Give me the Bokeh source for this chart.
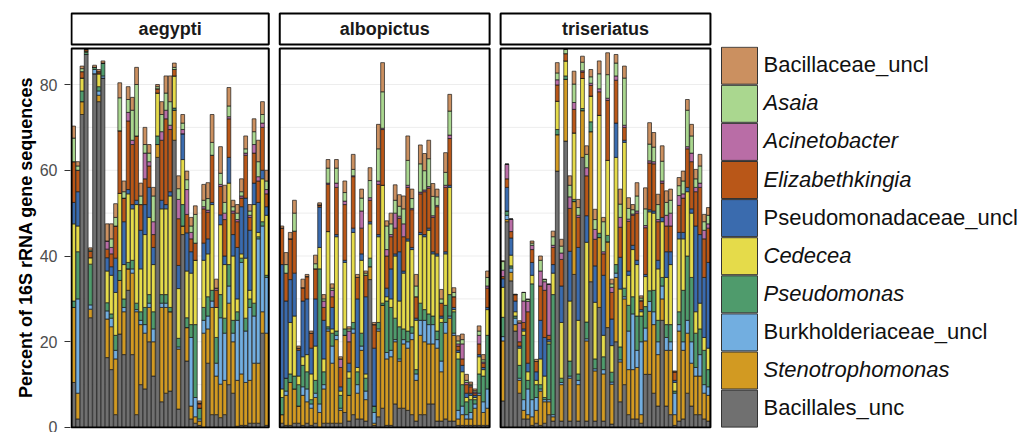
from bokeh.plotting import figure
from bokeh.layouts import column
from bokeh.models import ColumnDataSource, Range1d, FixedTicker
from bokeh.embed import file_html
from bokeh.resources import INLINE
from bokeh.core.properties import value

# ---------------- data ----------------
SPECIES = ["aegypti", "albopictus", "triseriatus"]
# stacking order: bottom -> top
TAXA = ["Bacillales_unc", "Stenotrophomonas", "Burkholderiaceae_uncl", "Pseudomonas",
        "Cedecea", "Pseudomonadaceae_uncl", "Elizabethkingia", "Acinetobacter",
        "Asaia", "Bacillaceae_uncl"]
ITALIC = [False, True, False, True, True, False, True, True, True, False]
COLORS = ["#707070", "#D29A22", "#72AEE0", "#4F9B6C", "#E5DB4A", "#3A6BAE",
          "#B95718", "#B96DA6", "#AAD78F", "#CB9060"]

# Aedes aegypti (47 samples)
AEG_BACILLALES_UNC = [10.5, 2, 73, 87, 25.6, 82.5, 76, 81.5, 16.3, 13.5, 3, 21.8, 17, 32, 17, 3, 10, 9, 20, 12, 63, 6, 8, 8.5, 67, 4.3, 45, 15.5, 2, 1, 0.5, 0, 15, 3, 3, 2.3, 3, 10, 8, 0.3, 0.5, 0.5, 1, 1, 1, 22, 0.5]
AEG_STENOTROPHOMONAS = [17.5, 6, 3, 0, 2, 0, 1.5, 0, 9, 10, 13, 12.5, 10, 5, 19, 24, 14, 13, 8, 8, 3, 22, 20, 18.5, 7, 14, 2, 7.8, 3, 1.5, 1, 22, 8, 25, 9, 7.8, 8, 19, 12, 10.7, 12, 10, 10, 14, 14, 5, 21.5]
AEG_BURKHOLDERIACEAE = [0, 22, 0, 0, 1, 1, 1, 0.5, 1.9, 2, 2, 0, 1, 0, 1, 0.5, 1, 2, 1, 3, 0, 1, 1, 0, 0, 0.5, 0, 0, 16, 4.5, 0.5, 3, 3, 1.5, 3, 15.5, 11, 4, 2, 14, 26, 12, 17, 11, 29, 20, 13]
AEG_PSEUDOMONAS = [1.5, 11, 2.5, 0.5, 9.5, 0.5, 1, 3, 1.9, 1, 3.5, 2.3, 2, 1.5, 2, 1.5, 2, 4, 2, 4, 2, 2, 2, 1, 0.5, 2, 5, 2.3, 3, 17, 2.5, 3, 4.5, 2.5, 6, 5.4, 3.5, 5, 3, 2, 1, 3, 2, 3, 0.5, 1, 0.5]
AEG_CEDECEA = [18, 6, 3, 0.3, 1.5, 0, 3, 0, 7.4, 9, 10, 18, 8, 16, 12, 23, 10, 17, 18, 11, 10, 20, 20, 26, 7.5, 11.6, 10.5, 10.9, 12, 15, 0, 11, 10, 20, 7, 16.3, 12.5, 19, 15, 3, 1, 14, 2, 23, 1, 10, 14]
AEG_PSEUDOMONADACEAE = [5, 8, 0, 0, 0, 0, 0, 0, 3.1, 2, 8, 0, 10, 1, 1, 1, 9, 7, 7, 4, 0, 2, 1, 1, 0, 5.4, 6, 8.9, 5, 0, 0, 4, 3.5, 0.5, 0, 2.3, 2, 6, 5, 12, 11, 14, 14, 5, 7, 2, 2]
AEG_ELIZABETHKINGIA = [9.5, 5, 1.5, 0.4, 1.5, 0, 0.5, 0, 2, 3, 7.5, 14.6, 5.5, 16, 14, 15, 6, 6, 5, 3, 1, 14, 20, 14.5, 1.5, 10.9, 0, 4.3, 3, 4, 1, 8, 6.2, 11, 4, 6.6, 8.5, 9, 5, 6, 2, 10, 3, 7, 5, 10, 3]
AEG_ACINETOBACTER = [0, 0, 0, 0, 0, 0, 0, 0, 1.9, 1.5, 0, 0, 0, 2, 1, 0, 0, 6, 1, 3, 0, 2, 2, 1, 0, 4.5, 1, 5.8, 1.5, 0, 0.2, 0.5, 0.5, 0, 0.5, 0.5, 1.5, 0.5, 0.5, 0.5, 0.5, 0.5, 0.5, 2, 1, 1, 1]
AEG_ASAIA = [5.5, 1, 0.7, 0, 0.3, 0, 0, 0, 0, 2, 2, 7.7, 1.5, 3, 7, 12, 2, 2, 2, 6, 0.5, 4, 4, 5.5, 0.5, 2.5, 1.5, 2.3, 1.5, 6.7, 0, 1.5, 2.7, 3, 0, 2.6, 2.5, 2.5, 1, 1.5, 1, 1, 1, 3, 3.5, 2, 2]
AEG_BACILLACEAE = [2.8, 1, 0.6, 0, 0.5, 0.5, 0.5, 0.5, 4, 3.5, 3.2, 3.5, 2.5, 3, 3, 4, 3, 4, 2, 2, 0.5, 3, 4, 6, 1, 3, 2, 2, 2, 2, 0.5, 3.7, 3.7, 6.5, 2.1, 6.2, 4, 4.3, 1.5, 2, 3, 3, 1.5, 3, 5, 3, 2.5]

# Aedes albopictus (50 samples)
ALB_BACILLALES_UNC = [1, 0.5, 0.5, 1, 1, 0.5, 1, 0.5, 1, 0, 1, 1, 1, 1, 1, 3.5, 1.5, 3, 2, 2, 1.5, 34.5, 0.5, 2.5, 4.5, 0.5, 0.5, 5.5, 4.5, 4.5, 4, 3, 1.5, 3, 3, 5.5, 5.5, 1.5, 1.5, 2, 1.5, 1.5, 0.5, 0.5, 0.5, 0.5, 0.5, 0.5, 0.5, 0.5]
ALB_STENOTROPHOMONAS = [2, 7, 10, 8, 4, 7, 5, 4, 6, 3.5, 8, 21.5, 14, 19.5, 3, 18, 6, 19, 6, 16, 5, 3, 0.5, 20, 24, 15.5, 16, 14.5, 11, 15, 14.5, 17.5, 9.5, 18.5, 17, 14, 14, 17, 11.5, 20, 24, 20, 1.5, 2.5, 1.5, 1.5, 4, 7, 3, 4]
ALB_BURKHOLDERIACEAE = [0, 1, 0, 0, 0, 2, 3, 1, 1, 2, 1, 0.5, 4, 1, 0.5, 0, 0, 1, 2, 1, 2, 0, 2.5, 0.5, 0, 1.5, 1.5, 0.5, 0.5, 1, 1.5, 1.5, 1.5, 3.5, 5, 4.5, 4.5, 2, 2.5, 2.5, 0.5, 0.5, 2, 2, 1, 1.5, 1, 0.5, 2.5, 4.5]
ALB_PSEUDOMONAS = [4, 3, 2, 3, 5, 5, 4, 1, 3, 31.5, 3, 0.5, 3, 1, 3, 1.5, 4, 1.5, 3, 3, 3, 2, 1.5, 1.5, 0.5, 12, 10, 5, 7.5, 2.5, 2.5, 1.5, 1, 4, 2.5, 2.5, 2, 2, 9, 4, 5, 5, 12, 5, 3, 3, 1, 4.5, 6, 12.5]
ALB_CEDECEA = [2, 0, 12, 14, 2, 2, 4, 6, 8, 5, 3, 22.2, 1, 22, 1, 15.5, 1.5, 21, 1, 17, 1, 8, 0, 20, 27.5, 1, 2, 14.5, 6, 13, 21, 18, 11.5, 16, 17, 19.5, 14.5, 17.5, 1, 12, 25, 0.5, 1.5, 3, 1, 1, 0.5, 4, 1.5, 6]
ALB_PSEUDOMONADACEAE = [29, 18, 10, 10, 6, 13, 13, 6, 11, 9.4, 9, 0, 5, 0.5, 1, 0.5, 2, 1, 16, 1.5, 18, 0.5, 13.5, 0.5, 0, 2, 7, 0.5, 11.5, 0.5, 0.5, 0.5, 0.5, 0.5, 0.5, 0.5, 0.5, 0.5, 0.5, 0.5, 0.5, 0.5, 0.5, 1.5, 1, 0.5, 0.5, 0.5, 0.5, 0.5]
ALB_ELIZABETHKINGIA = [8.5, 6.5, 9.5, 9.8, 0.5, 3.1, 5.2, 3.5, 7, 0.5, 3, 11, 2.5, 11, 4.5, 13, 5, 12, 5, 6, 5, 5, 5.5, 11.7, 13, 7.5, 7.5, 6, 7.8, 8, 12, 8.8, 5, 9, 10, 9.3, 8, 11, 3, 15, 10.9, 2.5, 1, 1.5, 2, 1.5, 0.5, 2.5, 1, 4.5]
ALB_ACINETOBACTER = [0, 0, 0, 0, 0, 0, 0, 0, 0, 0, 1.5, 0.3, 1.5, 1, 2, 0.8, 2.5, 0.2, 0, 4, 0, 0.6, 0, 0.8, 0.3, 1.5, 0.5, 3.5, 0.5, 3, 0.5, 0.3, 0, 0.4, 0.4, 0.4, 0.4, 0.3, 0, 0.5, 0.8, 0, 0.5, 3.5, 0.5, 0.3, 0.3, 2, 0.3, 0.5]
ALB_ASAIA = [0, 2, 0, 4.2, 0, 0, 0, 0, 1.2, 0, 0.5, 3.5, 0.5, 3.5, 0, 2, 0.5, 1.5, 0, 3, 0.5, 4, 0, 7.5, 8.5, 5.5, 2.5, 3, 2.3, 3.5, 5.8, 2.3, 2.5, 6.6, 4.5, 6.5, 4.5, 2, 1, 3, 5.6, 1, 0.7, 1, 0.5, 0.3, 0.3, 1, 0.5, 2]
ALB_BACILLACEAE = [0.5, 2.8, 1.5, 3, 0.5, 2, 0.5, 0.5, 2, 0.5, 1, 2, 1, 2, 0.5, 2.7, 0.5, 3.5, 0.7, 2.1, 0.5, 3, 0.5, 5.7, 6.8, 1.2, 2.5, 3.6, 2.7, 3, 5.7, 2.2, 2.7, 4.4, 4, 4.3, 3, 1.8, 2.2, 4.6, 3.9, 1.1, 1.2, 1.3, 1.4, 0.5, 0.4, 1.2, 1.2, 1.5]

# Aedes triseriatus (50 samples)
TRI_BACILLALES_UNC = [6.2, 48, 34.2, 22.5, 8, 2, 2, 0.5, 1, 0.5, 1, 3, 1.5, 59.8, 1.5, 66.8, 1.5, 35.7, 1.5, 63, 1.5, 34, 1.5, 28, 1.5, 23.3, 0.8, 20, 6, 10, 3, 2, 2, 1, 12.4, 12.4, 8, 5, 25, 5, 3, 0.5, 1.5, 2, 8, 5, 3, 3, 2, 1.5]
TRI_STENOTROPHOMONAS = [14, 0.5, 2, 1.5, 3, 2, 1, 2, 3, 8, 5, 3, 1, 8.5, 8.5, 14.4, 10, 17, 8.5, 10.9, 18.7, 35, 11.7, 16.3, 11, 20, 9.3, 15, 9.3, 20, 10.5, 11.5, 12, 2, 7.8, 14.7, 16, 12, 5, 13, 15, 2.5, 21, 16, 14, 10, 9, 9, 6, 6]
TRI_BURKHOLDERIACEAE = [1, 1, 1, 1.5, 0.5, 2.5, 6, 4, 3, 0.5, 0.5, 0.5, 0.5, 0, 0.5, 0, 0.5, 0, 1, 0, 0.5, 0, 0.5, 0, 1, 0, 0.5, 1, 0.5, 0.5, 9, 13, 4, 17, 3, 2.3, 3, 3, 3, 3, 2, 5, 1.5, 2, 3, 5, 2, 5, 2, 2]
TRI_PSEUDOMONAS = [4.5, 1, 0.5, 0.5, 3, 15, 2, 27, 3, 1, 0.5, 13, 28, 1.2, 1, 0.8, 3.5, 0.5, 1.5, 0.5, 3.9, 2.3, 2.3, 1, 3, 1.5, 2.3, 2, 3, 2, 6, 4, 8, 6, 5, 2.5, 5, 5, 2, 3, 4, 0.5, 3, 12, 15, 15, 8, 6, 8, 4]
TRI_CEDECEA = [7, 0, 2.5, 1, 4, 1, 2, 2, 1, 6, 5, 0.5, 5, 6.6, 13, 3.5, 14, 15.5, 12.5, 7, 18.6, 6, 13.2, 27.5, 5, 17.5, 6.2, 25, 13.5, 34, 7, 11, 12, 1, 7, 18.4, 18, 12, 13, 11, 14, 2, 17, 12, 15, 15, 5, 6, 3, 5]
TRI_PSEUDOMONADACEAE = [2, 5.5, 4, 2.5, 0.5, 0.5, 2, 3, 2, 9, 9, 0.5, 2, 0, 8.5, 0, 11.6, 0, 17, 0, 6.2, 0, 8.5, 0, 14, 0, 6.2, 8, 7.4, 0.5, 1, 1, 1, 0.5, 0.5, 0.5, 0.5, 2, 1, 6, 3, 0.5, 1.5, 1.5, 1, 1, 20, 16, 14, 20]
TRI_ELIZABETHKINGIA = [0.5, 2, 1.5, 1.5, 1, 1.5, 12, 3, 2.4, 8, 11, 1, 4, 3.8, 6.2, 1.7, 10, 5.5, 7, 1.5, 9.3, 2.5, 6.2, 5.5, 5, 14, 6.2, 10, 7, 3, 11.6, 7, 11, 2, 10.9, 10.9, 11, 9, 8, 6, 6, 2, 6.3, 8, 9, 11, 8, 11, 9, 8]
TRI_ACINETOBACTER = [1.5, 3.4, 2.9, 0, 4.4, 5, 2.4, 1, 0, 3.5, 2, 11.9, 0.5, 1.2, 1.5, 0, 2.7, 1.6, 0.5, 0.3, 1.9, 0.5, 2.3, 0.7, 0.5, 0.5, 1.2, 1, 2.3, 0.5, 0.5, 0.3, 0.5, 0.2, 0.5, 0.5, 0.5, 0.5, 0.5, 2.5, 3, 0, 2.3, 1, 0.5, 2, 1, 1, 2, 1]
TRI_ASAIA = [2, 0, 0, 0, 0, 2, 0.5, 0.5, 0, 2.5, 0.5, 0, 2, 1.6, 1.6, 1, 2.7, 4.3, 1.8, 2, 3.1, 1.5, 2.3, 3.5, 7, 5.5, 0.8, 3, 3.1, 11, 2.5, 1, 3.5, 0.5, 3.9, 3.9, 3.4, 3.5, 4.6, 3, 3, 0, 2.3, 3, 8.5, 4, 2, 4, 2, 2]
TRI_BACILLACEAE = [0.2, 0, 0, 0.1, 0.5, 0, 0, 0.5, 0.5, 1, 0.1, 0, 1.3, 2.4, 1.6, 0, 2.2, 3, 1.9, 1.4, 2, 1.7, 2.4, 3, 1, 5.1, 1.1, 2, 3.5, 2.8, 2.5, 1.2, 3.1, 0.5, 4.9, 5, 3.4, 2.4, 3.6, 2.7, 2.6, 0.2, 1.9, 2.3, 2.5, 2.7, 2.2, 2.7, 1.7, 1.8]

Y_TICKS = [0, 20, 40, 60, 80]
GRID_LINES = [10, 20, 30, 40, 50, 60, 70, 80]
Y_TITLE = "Percent of 16S rRNA gene sequences"

SERIES = [
    [AEG_BACILLALES_UNC, AEG_STENOTROPHOMONAS, AEG_BURKHOLDERIACEAE, AEG_PSEUDOMONAS, AEG_CEDECEA,
     AEG_PSEUDOMONADACEAE, AEG_ELIZABETHKINGIA, AEG_ACINETOBACTER, AEG_ASAIA, AEG_BACILLACEAE],
    [ALB_BACILLALES_UNC, ALB_STENOTROPHOMONAS, ALB_BURKHOLDERIACEAE, ALB_PSEUDOMONAS, ALB_CEDECEA,
     ALB_PSEUDOMONADACEAE, ALB_ELIZABETHKINGIA, ALB_ACINETOBACTER, ALB_ASAIA, ALB_BACILLACEAE],
    [TRI_BACILLALES_UNC, TRI_STENOTROPHOMONAS, TRI_BURKHOLDERIACEAE, TRI_PSEUDOMONAS, TRI_CEDECEA,
     TRI_PSEUDOMONADACEAE, TRI_ELIZABETHKINGIA, TRI_ACINETOBACTER, TRI_ASAIA, TRI_BACILLACEAE],
]

# ---------------- layout constants ----------------
FONT = "Liberation Sans"
W = 1023
PX_X = 4.197          # pixels per bar
PX_Y = 4.2875         # pixels per percent
FRAME_LEFT = 70       # picture x of the frame's left edge
Y0 = 427              # picture y of value 0
GAP = 2.62            # gap between panels (bar units)
MAIN_TOP = 46         # picture y where the main figure starts
MAIN_H = 432 - MAIN_TOP
STRIP_H = MAIN_TOP


def xd(px):
    return (px - FRAME_LEFT) / PX_X


def yd(py):
    return (Y0 - py) / PX_Y


counts = [len(s[0]) for s in SERIES]
starts = []
pos = xd(71)
for n in counts:
    starts.append(pos)
    pos += n + GAP
ends = [a + n for a, n in zip(starts, counts)]
PANEL_TOP = yd(48)

# ---------------- main figure ----------------
p = figure(width=W, height=MAIN_H,
           x_range=Range1d(0, (W - FRAME_LEFT) / PX_X),
           y_range=Range1d(yd(428), yd(MAIN_TOP)),
           output_backend="svg", toolbar_location=None, x_axis_location=None,
           min_border_left=FRAME_LEFT, min_border_right=0,
           min_border_top=0, min_border_bottom=4)
p.outline_line_color = None
p.grid.grid_line_color = None
p.background_fill_color = "white"
p.border_fill_color = "white"

# gridlines inside panels
for a, b in zip(starts, ends):
    p.segment(x0=[a] * len(GRID_LINES), x1=[b] * len(GRID_LINES), y0=GRID_LINES, y1=GRID_LINES,
              line_color="#EDEDED", line_width=1)

xs = []
cols = {t: [] for t in TAXA}
for start, series in zip(starts, SERIES):
    for j in range(len(series[0])):
        xs.append(start + j + 0.5)
        for t, vals in zip(TAXA, series):
            cols[t].append(vals[j])
src = ColumnDataSource(dict(x=xs, **cols))
p.vbar_stack(TAXA, x="x", width=0.9, source=src, fill_color=COLORS,
             line_color="#1a1a1a", line_width=0.7)

# panel borders
p.quad(left=starts, right=ends, bottom=[0] * 3, top=[PANEL_TOP] * 3,
       fill_color=None, line_color="black", line_width=2)

# y axis
ax = p.yaxis[0]
ax.ticker = FixedTicker(ticks=Y_TICKS)
ax.axis_line_color = None
ax.major_tick_out = 6
ax.major_tick_in = 0
ax.minor_tick_out = 0
ax.minor_tick_in = 0
ax.major_tick_line_color = "#333333"
ax.major_tick_line_width = 1
ax.major_label_text_font = FONT
ax.major_label_text_font_size = "16px"
ax.major_label_text_color = "#4D4D4D"
ax.major_label_standoff = 7
ax.axis_label = Y_TITLE
ax.axis_label_text_font = FONT
ax.axis_label_text_font_size = "18px"
ax.axis_label_text_font_style = "bold"
ax.axis_label_text_color = "black"
ax.axis_label_standoff = 1

# legend (top item = last taxon)
leg_taxa = TAXA[::-1]
leg_cols = COLORS[::-1]
leg_ital = ITALIC[::-1]
KEY_TOP0 = 46.7
KEY_STEP = 38.1
KEY_H = 37
key_tops = [KEY_TOP0 + KEY_STEP * k for k in range(len(leg_taxa))]
p.quad(left=[xd(721)] * 10, right=[xd(757)] * 10,
       top=[yd(t) for t in key_tops], bottom=[yd(t + KEY_H) for t in key_tops],
       fill_color=leg_cols, line_color="#333333", line_width=1)
for ital in (True, False):
    idx = [k for k in range(10) if leg_ital[k] == ital]
    p.text(x=[xd(763)] * len(idx), y=[yd(key_tops[k] + KEY_H / 2 - 1) for k in idx],
           text=[leg_taxa[k] for k in idx], text_font=value(FONT),
           text_font_size=value("22px"), text_font_style=value("italic" if ital else "normal"),
           text_color="#111111", text_baseline=value("middle"), text_align=value("left"))

# ---------------- strip figure ----------------
s = figure(width=W, height=STRIP_H, x_range=p.x_range, y_range=Range1d(0, STRIP_H),
           output_backend="svg", toolbar_location=None,
           x_axis_location=None, y_axis_location=None,
           min_border_left=FRAME_LEFT, min_border_right=0,
           min_border_top=0, min_border_bottom=0)
s.outline_line_color = None
s.grid.grid_line_color = None


def sy(py):
    return MAIN_TOP - py


s.quad(left=starts, right=ends, bottom=[sy(44)] * 3, top=[sy(13)] * 3,
       fill_color="white", line_color="black", line_width=2)
s.text(x=[(a + b) / 2 for a, b in zip(starts, ends)], y=[sy(28.5)] * 3, text=SPECIES,
       text_font=value(FONT), text_font_size=value("18px"), text_font_style=value("bold"),
       text_color="#1a1a1a", text_align=value("center"), text_baseline=value("middle"))

layout = column(s, p, spacing=0)
open("out.html", "w").write(file_html(layout, INLINE))
